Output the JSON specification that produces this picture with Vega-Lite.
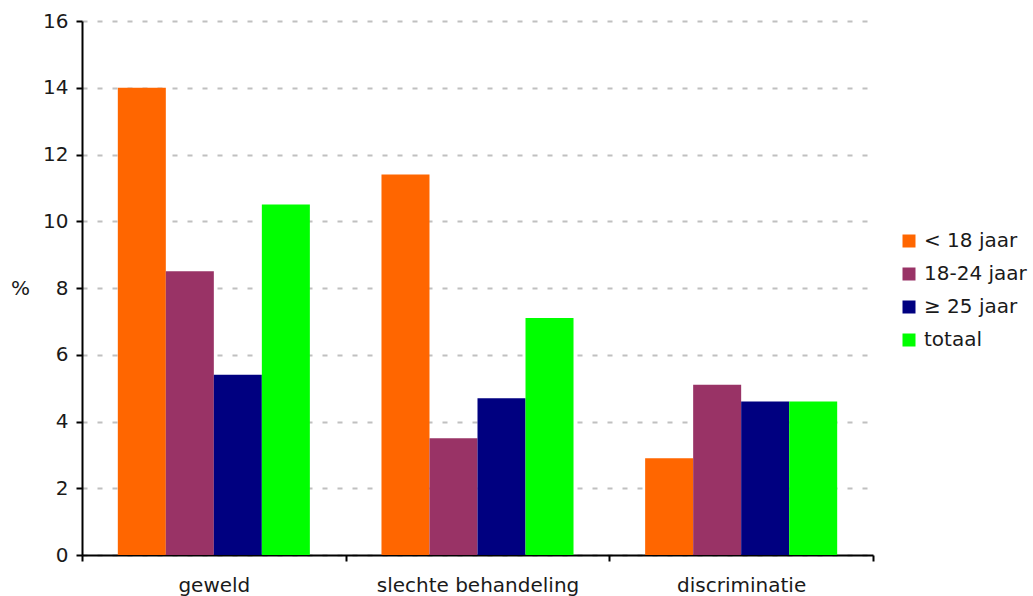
{
  "$schema": "https://vega.github.io/schema/vega-lite/v6.json",
  "width": 791,
  "height": 534,
  "autosize": {"type": "none"},
  "padding": {"left": 82, "top": 21, "right": 160, "bottom": 41},
  "background": "white",
  "config": {
    "view": {"stroke": null},
    "font": "DejaVu Sans",
    "axis": {"labelFont": "DejaVu Sans", "titleFont": "DejaVu Sans"},
    "legend": {"labelFont": "DejaVu Sans"}
  },
  "data": {
    "values": [
      {"categorie": "geweld", "groep": "< 18 jaar", "waarde": 14.0},
      {"categorie": "geweld", "groep": "18-24 jaar", "waarde": 8.5},
      {"categorie": "geweld", "groep": "≥ 25 jaar", "waarde": 5.4},
      {"categorie": "geweld", "groep": "totaal", "waarde": 10.5},
      {"categorie": "slechte behandeling", "groep": "< 18 jaar", "waarde": 11.4},
      {"categorie": "slechte behandeling", "groep": "18-24 jaar", "waarde": 3.5},
      {"categorie": "slechte behandeling", "groep": "≥ 25 jaar", "waarde": 4.7},
      {"categorie": "slechte behandeling", "groep": "totaal", "waarde": 7.1},
      {"categorie": "discriminatie", "groep": "< 18 jaar", "waarde": 2.9},
      {"categorie": "discriminatie", "groep": "18-24 jaar", "waarde": 5.1},
      {"categorie": "discriminatie", "groep": "≥ 25 jaar", "waarde": 4.6},
      {"categorie": "discriminatie", "groep": "totaal", "waarde": 4.6}
    ]
  },
  "mark": {"type": "bar"},
  "encoding": {
    "x": {
      "field": "categorie",
      "type": "nominal",
      "sort": null,
      "scale": {"paddingInner": 0, "paddingOuter": 0},
      "axis": {
        "title": null,
        "labelAngle": 0,
        "labelFontSize": 20,
        "labelColor": "#1a1a1a",
        "labelPadding": 14,
        "labelLimit": 0,
        "tickBand": "extent",
        "tickSize": 6,
        "tickColor": "black",
        "tickWidth": 2,
        "domainColor": "black",
        "domainWidth": 2,
        "grid": false
      }
    },
    "xOffset": {
      "field": "groep",
      "type": "nominal",
      "sort": ["< 18 jaar", "18-24 jaar", "≥ 25 jaar", "totaal"],
      "scale": {"paddingInner": 0, "paddingOuter": 0.746}
    },
    "y": {
      "field": "waarde",
      "type": "quantitative",
      "scale": {"domain": [0, 16], "nice": false},
      "axis": {
        "values": [0, 2, 4, 6, 8, 10, 12, 14, 16],
        "title": "%",
        "titleAngle": 0,
        "titleFontSize": 20,
        "titleFontWeight": "normal",
        "titleColor": "#1a1a1a",
        "titleAlign": "center",
        "titleBaseline": "middle",
        "titleX": -62,
        "titleY": 267,
        "labelFontSize": 20,
        "labelColor": "#1a1a1a",
        "labelPadding": 8,
        "tickSize": 6,
        "tickColor": "black",
        "tickWidth": 2,
        "domainColor": "black",
        "domainWidth": 2,
        "grid": true,
        "gridColor": "#c0c0c0",
        "gridWidth": 2,
        "gridDash": [5, 10]
      }
    },
    "color": {
      "field": "groep",
      "type": "nominal",
      "sort": ["< 18 jaar", "18-24 jaar", "≥ 25 jaar", "totaal"],
      "scale": {
        "domain": ["< 18 jaar", "18-24 jaar", "≥ 25 jaar", "totaal"],
        "range": ["#FF6600", "#993366", "#000080", "#00FF00"]
      },
      "legend": {
        "title": null,
        "orient": "none",
        "legendX": 817,
        "legendY": 210,
        "padding": 0,
        "symbolType": "square",
        "symbolSize": 169,
        "symbolStrokeWidth": 0,
        "symbolOpacity": 1,
        "labelFontSize": 20,
        "labelColor": "#1a1a1a",
        "labelOffset": 5,
        "labelLimit": 0,
        "rowPadding": 13
      }
    }
  }
}
